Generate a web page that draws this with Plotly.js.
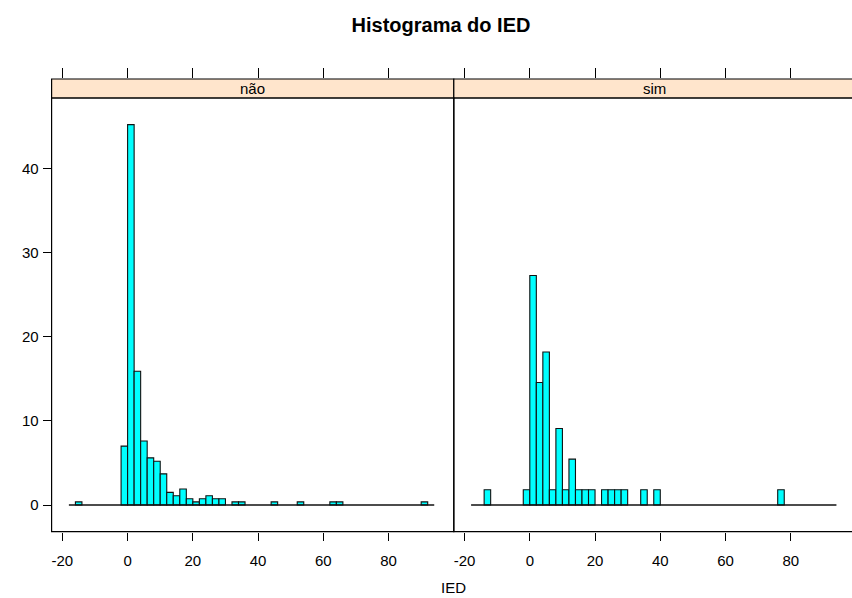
<!DOCTYPE html>
<html>
<head>
<meta charset="utf-8">
<script src="https://cdn.plot.ly/plotly-3.0.1.min.js"></script>
<style>html,body{margin:0;padding:0;overflow:hidden;background:#fff;}#chart{width:856px;height:598px;}</style>
</head>
<body>
<div id="chart"></div>
<script>
// ---- data (percent of total per histogram bin) ----
const panelLabels = ["não", "sim"];
const binWidth = 2;
const breaksRange = [-18, 94];
// left edges of non-empty bins and their percentages
const naoBinStart = [-16, -2, 0, 2, 4, 6, 8, 10, 12, 14, 16, 18, 20, 22, 24, 26, 28, 32, 34, 44, 52, 62, 64, 90];
const naoPercent  = [0.37, 7.0, 45.2, 15.9, 7.6, 5.6, 5.2, 3.7, 1.5, 1.1, 1.9, 0.74, 0.37, 0.74, 1.1, 0.74, 0.74, 0.37, 0.37, 0.37, 0.37, 0.37, 0.37, 0.37];
const simBinStart = [-14, -2, 0, 2, 4, 6, 8, 10, 12, 14, 16, 18, 22, 24, 26, 28, 34, 38, 76];
const simPercent  = [1.82, 1.82, 27.27, 14.55, 18.18, 1.82, 9.09, 1.82, 5.45, 1.82, 1.82, 1.82, 1.82, 1.82, 1.82, 1.82, 1.82, 1.82, 1.82];
const xTicks = [-20, 0, 20, 40, 60, 80];
const xTickLabels = ["-20", "0", "20", "40", "60", "80"];
const yTicks = [0, 10, 20, 30, 40];
const yTickLabels = ["0", "10", "20", "30", "40"];
const xLimits = [-23.3, 100];
const yLimits = [-3.16, 48.36];

// ---- geometry ----
const W = 856, H = 598;
const px = v => v / W, py = v => 1 - v / H;
const panelL = 51.6, panelMid = 453.8, panelR = 856;
const panelTop = 98, panelBot = 531.6, stripTop = 79;
const FONT = "Arial, 'Liberation Sans', sans-serif";

function barTrace(xs, ys, xa) {
  return {type: "bar", x: xs, y: ys, width: xs.map(() => binWidth), offset: 0,
    xaxis: xa, yaxis: "y", marker: {color: "#00FFFF", line: {color: "#111111", width: 1.1}},
    hoverinfo: "x+y", showlegend: false};
}
function baseTrace(xa) {
  return {type: "scatter", mode: "lines", x: breaksRange, y: [0, 0], xaxis: xa, yaxis: "y",
    line: {color: "#111111", width: 1.3}, hoverinfo: "skip", showlegend: false};
}
const traces = [
  baseTrace("x"), barTrace(naoBinStart, naoPercent, "x"),
  baseTrace("x2"), barTrace(simBinStart, simPercent, "x2"),
  {type: "scatter", x: [], y: [], xaxis: "x3", yaxis: "y2", showlegend: false},
  {type: "scatter", x: [], y: [], xaxis: "x4", yaxis: "y2", showlegend: false}
];

const tickFont = {family: FONT, size: 15, color: "#000"};
function botX(domain, anchor) {
  return {domain: domain, range: xLimits, anchor: anchor, tickmode: "array", tickvals: xTicks, ticktext: xTickLabels,
    ticks: "outside", ticklen: 8, tickcolor: "#000", tickwidth: 1, ticklabelstandoff: 7,
    showline: false, showgrid: false, zeroline: false, tickfont: tickFont, fixedrange: true};
}
function topX(domain) {
  return {domain: domain, range: xLimits, anchor: "y2", side: "top", tickmode: "array", tickvals: xTicks,
    ticks: "outside", ticklen: 10, tickcolor: "#000", tickwidth: 1, showticklabels: false,
    showline: false, showgrid: false, zeroline: false, fixedrange: true};
}
const dL = [px(panelL), px(panelMid)], dR = [px(panelMid), px(panelR)];

const shapes = [];
["x", "x2"].forEach(xa => shapes.push({type: "rect", xref: xa + " domain", yref: "y domain",
  x0: 0, x1: 1, y0: 0, y1: 1, line: {color: "#000", width: 1.2}, layer: "above"}));
["x3", "x4"].forEach(xa => shapes.push({type: "rect", xref: xa + " domain", yref: "y2 domain",
  x0: 0, x1: 1, y0: 0, y1: 1, fillcolor: "#FFE5CC", line: {color: "#000", width: 1.2}, layer: "below"}));

const annotations = [
  {xref: "x3 domain", yref: "y2 domain", x: 0.5, y: 0.5, text: panelLabels[0], showarrow: false,
    font: {family: FONT, size: 15, color: "#000"}, xanchor: "center", yanchor: "middle"},
  {xref: "x4 domain", yref: "y2 domain", x: 0.5, y: 0.5, text: panelLabels[1], showarrow: false,
    font: {family: FONT, size: 15, color: "#000"}, xanchor: "center", yanchor: "middle"},
  {xref: "paper", yref: "paper", x: px((panelL + panelR) / 2), y: py(587), text: "IED", showarrow: false,
    font: {family: FONT, size: 15, color: "#000"}, xanchor: "center", yanchor: "middle"}
];

const layout = {
  width: W, height: H, margin: {l: 0, r: 0, t: 0, b: 0},
  paper_bgcolor: "#fff", plot_bgcolor: "rgba(0,0,0,0)",
  title: {text: "<b>Histograma do IED</b>", x: px(441), xanchor: "center", y: py(25), yanchor: "middle",
    font: {family: FONT, size: 20, color: "#000"}},
  xaxis: botX(dL, "y"),
  xaxis2: botX(dR, "y"),
  xaxis3: topX(dL),
  xaxis4: topX(dR),
  yaxis: {domain: [py(panelBot), py(panelTop)], range: yLimits, anchor: "x", tickmode: "array", tickvals: yTicks, ticktext: yTickLabels,
    ticks: "outside", ticklen: 8, tickcolor: "#000", tickwidth: 1, ticklabelstandoff: 1,
    showline: false, showgrid: false, zeroline: false, tickfont: tickFont, fixedrange: true},
  yaxis2: {domain: [py(panelTop), py(stripTop)], range: [0, 1], anchor: "x3", visible: false, fixedrange: true},
  shapes: shapes, annotations: annotations, showlegend: false, bargap: 0
};
Plotly.newPlot("chart", traces, layout, {displayModeBar: false, staticPlot: true});
</script>
</body>
</html>
